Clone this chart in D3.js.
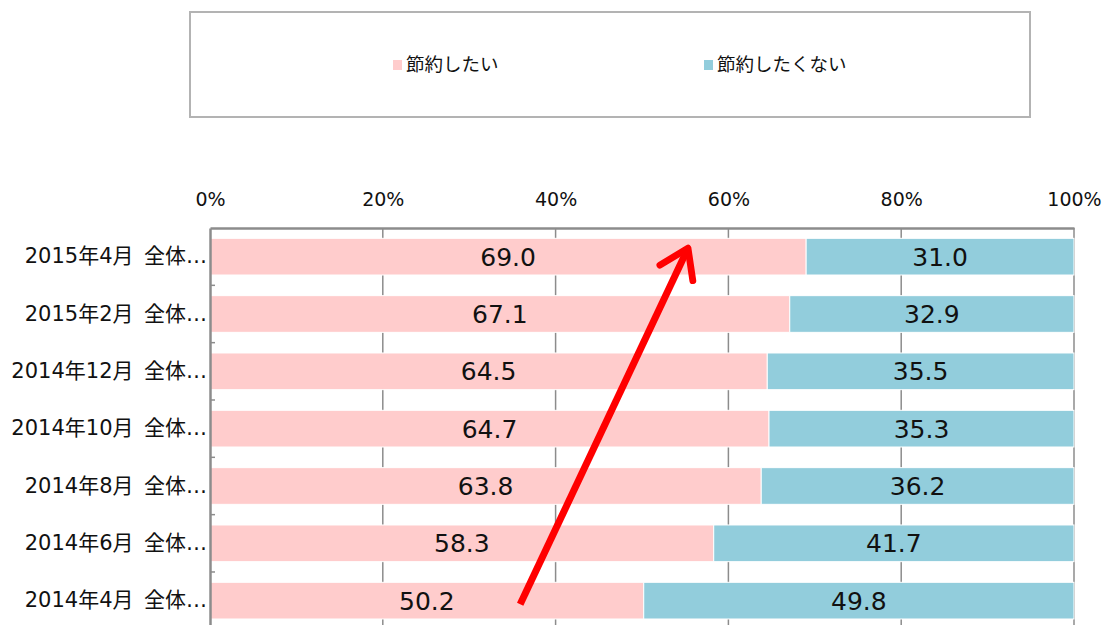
<!DOCTYPE html>
<html>
<head>
<meta charset="utf-8">
<script src="https://cdn.jsdelivr.net/npm/d3@7"></script>
<style>
  body { margin: 0; background: #fff; }
  svg { font-family: "DejaVu Sans", "Noto Sans CJK JP", sans-serif; }
</style>
</head>
<body>
<svg width="1106" height="625"></svg>
<script>
var svg = d3.select("svg");

const categories = [
  "2015年4月\u2002全体…",
  "2015年2月\u2002全体…",
  "2014年12月\u2002全体…",
  "2014年10月\u2002全体…",
  "2014年8月\u2002全体…",
  "2014年6月\u2002全体…",
  "2014年4月\u2002全体…"
];
const want = [69.0, 67.1, 64.5, 64.7, 63.8, 58.3, 50.2];
const notWant = [31.0, 32.9, 35.5, 35.3, 36.2, 41.7, 49.8];
const seriesNames = ["節約したい", "節約したくない"];
const colors = ["#ffcccc", "#92cddc"];
const ticks = [0, 20, 40, 60, 80, 100];

const plotLeft = 210, plotRight = 1074, plotTop = 228;
const step = 57.33;

var x = d3.scaleLinear().domain([0, 100]).range([plotLeft, plotRight]);
var y = d3
  .scaleBand()
  .domain(categories)
  .range([plotTop, plotTop + step * categories.length])
  .paddingInner(0.36)
  .paddingOuter(0.18);

// gridlines
svg
  .append("g")
  .selectAll("line")
  .data(ticks.slice(1))
  .enter()
  .append("line")
  .attr("x1", d => x(d))
  .attr("x2", d => x(d))
  .attr("y1", plotTop)
  .attr("y2", 625)
  .attr("stroke", "#8c8c8c")
  .attr("stroke-width", 1.5);

// stacked bars
var rows = categories.map((c, i) => ({ cat: c, vals: [want[i], notWant[i]] }));
var row = svg
  .append("g")
  .selectAll("g")
  .data(rows)
  .enter()
  .append("g");

row.each(function(d) {
  var g = d3.select(this);
  var start = 0;
  d.vals.forEach((v, k) => {
    g.append("rect")
      .attr("x", x(start))
      .attr("y", y(d.cat))
      .attr("width", x(start + v) - x(start))
      .attr("height", y.bandwidth())
      .attr("fill", colors[k])
      .attr("stroke", "#fff")
      .attr("stroke-width", 1);
    g.append("text")
      .attr("x", x(start + v / 2))
      .attr("y", y(d.cat) + y.bandwidth() / 2)
      .attr("dy", "0.36em")
      .attr("text-anchor", "middle")
      .attr("font-size", 25)
      .attr("fill", "#111")
      .text(v.toFixed(1));
    start += v;
  });
});

// top axis
var xAxis = d3
  .axisTop(x)
  .tickValues(ticks)
  .tickFormat(d => d + "%")
  .tickSize(0)
  .tickPadding(22);
var ax = svg
  .append("g")
  .attr("transform", "translate(0," + plotTop + ")")
  .call(xAxis);
ax.select(".domain").attr("stroke", "#8c8c8c").attr("stroke-width", 2.5);
ax
  .selectAll("text")
  .attr("font-size", 19)
  .attr("fill", "#111")
  .attr("font-family", "DejaVu Sans, sans-serif");

// left axis
var yAxis = d3.axisLeft(y).tickSize(0).tickPadding(3);
var ay = svg
  .append("g")
  .attr("transform", "translate(" + plotLeft + ",0)")
  .call(yAxis);
ay.attr("font-family", "DejaVu Sans, Noto Sans CJK JP, sans-serif");
ay.select(".domain").attr("stroke", "#8c8c8c").attr("stroke-width", 2.5);
ay.selectAll("text").attr("font-size", 21).attr("fill", "#111");

// small inward ticks at band boundaries
svg
  .append("g")
  .selectAll("line")
  .data(categories.slice(1))
  .enter()
  .append("line")
  .attr("x1", plotLeft)
  .attr("x2", plotLeft + 5)
  .attr("y1", d => y(d) - y.step() * y.paddingInner() / 2)
  .attr("y2", d => y(d) - y.step() * y.paddingInner() / 2)
  .attr("stroke", "#8c8c8c")
  .attr("stroke-width", 1.5);

// arrow annotation
svg
  .append("defs")
  .append("marker")
  .attr("id", "head")
  .attr("viewBox", "0 0 10 10")
  .attr("refX", 6)
  .attr("refY", 5)
  .attr("markerWidth", 6.5)
  .attr("markerHeight", 6.5)
  .attr("orient", "auto")
  .append("path")
  .attr("d", "M1,1 L7,5 L1,9")
  .attr("fill", "none")
  .attr("stroke", "#ff0000")
  .attr("stroke-width", 1.5)
  .attr("stroke-linecap", "round")
  .attr("stroke-linejoin", "round");

svg
  .append("line")
  .attr("x1", x(35.9))
  .attr("y1", y(categories[6]) + y.bandwidth() * 0.6)
  .attr("x2", x(55.1))
  .attr("y2", y(categories[0]) + 14)
  .attr("stroke", "#ff0000")
  .attr("stroke-width", 7)
  .attr("marker-end", "url(#head)");

// legend
svg
  .append("rect")
  .attr("x", 190)
  .attr("y", 12)
  .attr("width", 840)
  .attr("height", 105)
  .attr("fill", "#fff")
  .attr("stroke", "#b3b3b3")
  .attr("stroke-width", 2);

var lx = [393, 704];
var leg = svg
  .append("g")
  .selectAll("g")
  .data(seriesNames)
  .enter()
  .append("g")
  .attr("transform", (d, i) => "translate(" + lx[i] + ",65)");
leg
  .append("rect")
  .attr("x", 0)
  .attr("y", -5)
  .attr("width", 9)
  .attr("height", 10)
  .attr("fill", (d, i) => colors[i]);
leg
  .append("text")
  .attr("x", 13)
  .attr("dy", "0.35em")
  .attr("font-size", 18.5)
  .attr("fill", "#111")
  .attr("font-family", "Noto Sans CJK JP, sans-serif")
  .text(d => d);
</script>
</body>
</html>
